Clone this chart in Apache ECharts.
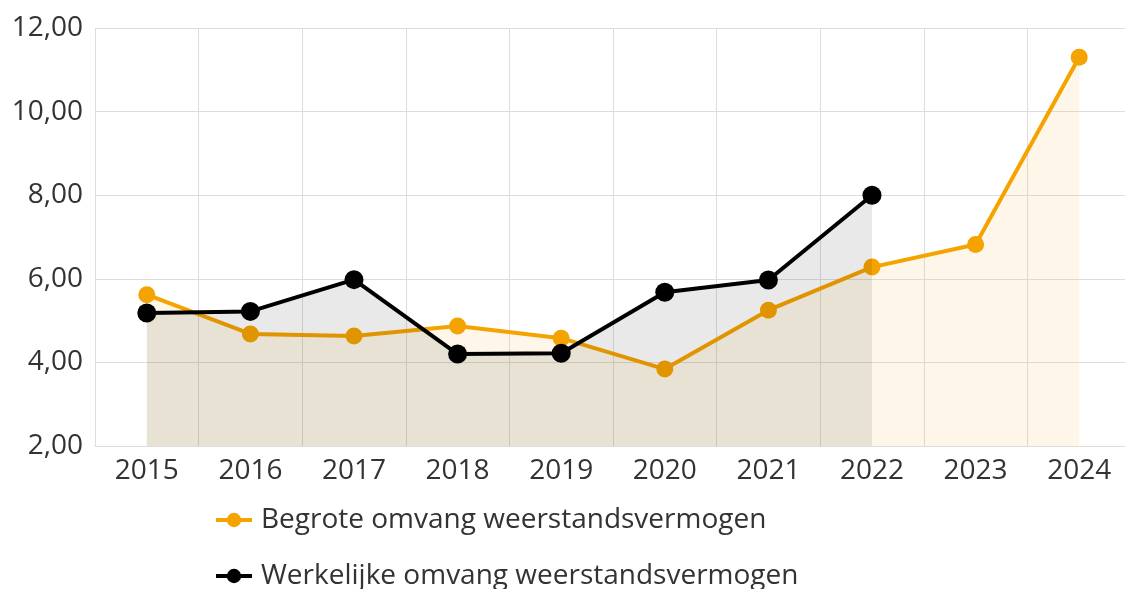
<!DOCTYPE html>
<html>
<head>
<meta charset="utf-8">
<script src="https://cdn.jsdelivr.net/npm/echarts@6/dist/echarts.min.js"></script>
<style>
    html, body { margin: 0; padding: 0; background: #fff; overflow: hidden; }
    #chart { width: 1131px; height: 589px; }
</style>
</head>
<body>
<div id="chart"></div>
<script>
    // data
    var years = ['2015', '2016', '2017', '2018', '2019', '2020', '2021', '2022', '2023', '2024'];
    var begroot = [5.62, 4.68, 4.63, 4.87, 4.58, 3.84, 5.25, 6.28, 6.82, 11.3];
    var werkelijk = [5.18, 5.22, 5.98, 4.2, 4.22, 5.68, 5.97, 8.0, null, null];
    var names = ['Begrote omvang weerstandsvermogen', 'Werkelijke omvang weerstandsvermogen'];

    var chart = echarts.init(document.getElementById('chart'));
    var font = '"Open Sans", "Noto Sans", sans-serif';

    function legendAt(name, top) {
        return {
            left: 214,
            top: top,
            padding: 0,
            itemWidth: 36,
            itemHeight: 18,
            itemGap: 8,
            lineStyle: { width: 4 },
            textStyle: { fontSize: 28, color: '#333', fontFamily: font, padding: [0, 0, 0, 4] },
            data: [name]
        };
    }

    chart.setOption({
        animation: false,
        grid: { left: 95, right: 0, top: 28, bottom: 143 },
        legend: [legendAt(names[0], 506), legendAt(names[1], 562)],
        xAxis: {
            type: 'category',
            data: years,
            boundaryGap: true,
            axisLine: { lineStyle: { color: '#ddd' } },
            axisTick: { show: false },
            splitLine: { show: true, lineStyle: { color: '#ddd' } },
            axisLabel: { fontSize: 28, color: '#333', fontFamily: font, margin: 11 }
        },
        yAxis: {
            type: 'value',
            min: 2,
            max: 12,
            interval: 2,
            axisLine: { show: false },
            axisTick: { show: false },
            splitLine: { lineStyle: { color: '#ddd' } },
            axisLabel: {
                fontSize: 28, color: '#333', fontFamily: font, margin: 12,
                formatter: function (v) { return v.toFixed(2).replace('.', ','); }
            }
        },
        series: [
            {
                name: names[0],
                type: 'line',
                data: begroot,
                symbol: 'circle',
                symbolSize: 17,
                color: '#f5a300',
                lineStyle: { width: 4, color: '#f5a300' },
                itemStyle: { color: '#f5a300' },
                areaStyle: { origin: 'start', color: 'rgba(246, 196, 100, 0.2)' },
                z: 3
            },
            {
                name: names[1],
                type: 'line',
                data: werkelijk,
                symbol: 'circle',
                symbolSize: 19,
                color: '#000',
                lineStyle: { width: 4, color: '#000' },
                itemStyle: { color: '#000' },
                areaStyle: { origin: 'start', color: 'rgba(0, 0, 0, 0.12)' },
                z: 4
            }
        ]
    });
</script>
</body>
</html>
